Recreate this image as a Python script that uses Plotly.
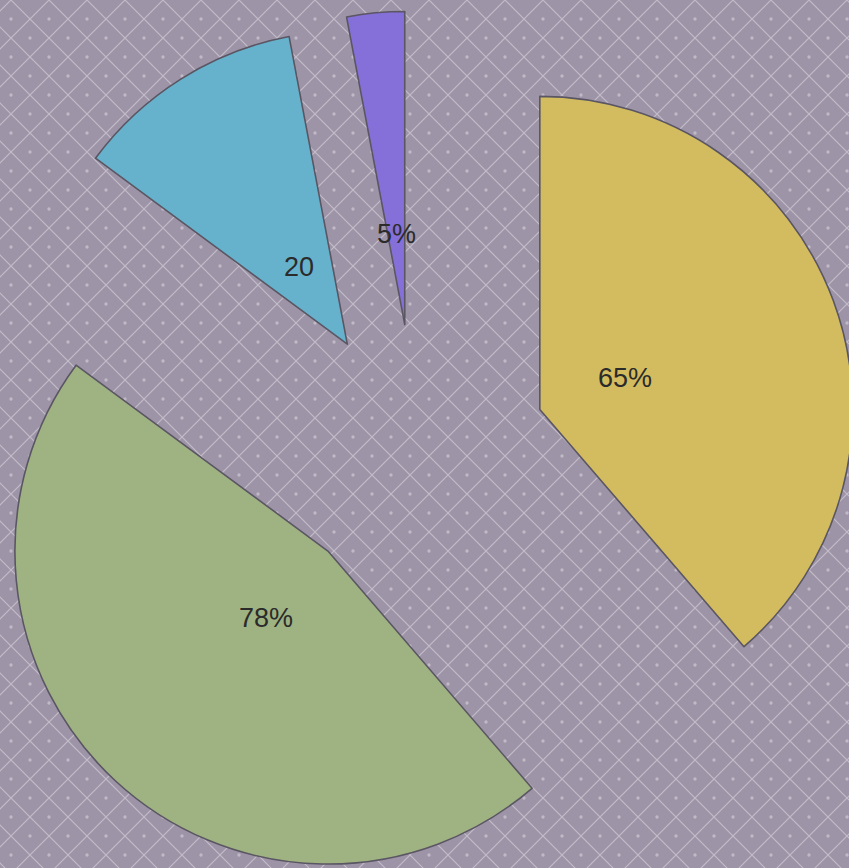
import math
import plotly.graph_objects as go

# ---- data ----
slice_names = ["Yellow", "Green", "Blue", "Purple"]
slice_values = [65, 78, 20, 5]
slice_texts = ["65%", "78%", "20", "5%"]
slice_colors = ["#d2bc5f", "#9fb382", "#66b2cc", "#8470d8"]

# ---- layout constants ----
FIG_W, FIG_H = 888, 899
TOP_GAP = 11            # space above the pie's bounding square
SHIFT_LEFT = 27         # page offset of the figure
PULL = 0.4185
LABEL_R = 0.29          # label distance beyond the pulled apex (fraction of radius)
BG = "#9e94a8"
TILE = 38.0             # diamond-grid spacing (px)

dom_y = [0, 1 - TOP_GAP / FIG_H]

fig = go.Figure()

# patterned background: diagonal diamond grid
fig.add_trace(go.Scatter(
    x=[0, 1, 1, 0, 0], y=[0, 0, 1, 1, 0], fill="toself", mode="none",
    fillcolor=BG,
    fillpattern=dict(shape="x", size=TILE / math.sqrt(2), solidity=0.08,
                     fgcolor="white", fgopacity=0.38, bgcolor=BG),
    hoverinfo="skip", showlegend=False))

# faint dots in the diamond centres (two offset lattices)
dot_pat = dict(shape=".", size=TILE, solidity=0.006, fgcolor="white",
               fgopacity=0.35, bgcolor="rgba(0,0,0,0)")
for ax in ("2", "3"):
    fig.add_trace(go.Scatter(
        x=[0, 1, 1, 0, 0], y=[0, 0, 1, 1, 0], fill="toself", mode="none",
        fillcolor="rgba(0,0,0,0)", fillpattern=dot_pat,
        xaxis="x" + ax, yaxis="y" + ax, hoverinfo="skip", showlegend=False))

fig.add_trace(go.Pie(
    labels=slice_names, values=slice_values, sort=False,
    direction="clockwise", rotation=0,
    pull=[PULL] * len(slice_values),
    marker=dict(colors=slice_colors, line=dict(color="#5b5663", width=1.6)),
    textinfo="none", hoverinfo="label+value",
    domain=dict(x=[0, 1], y=dom_y), showlegend=False))

# labels placed along each slice bisector
plot_h = FIG_H * (dom_y[1] - dom_y[0])
r = min(FIG_W, plot_h) / (2 + 2 * PULL)
cx = FIG_W / 2
cy = FIG_H * (1 - (dom_y[0] + dom_y[1]) / 2)
total = sum(slice_values)
cum = 0
for v, t in zip(slice_values, slice_texts):
    mid = (cum + v / 2) / total * 2 * math.pi
    cum += v
    d = (PULL + LABEL_R) * r
    px = cx + d * math.sin(mid)
    py = cy - d * math.cos(mid)
    fig.add_annotation(x=px / FIG_W, y=1 - py / FIG_H, xref="paper", yref="paper",
                       xanchor="center", yanchor="middle",
                       text=t, showarrow=False,
                       font=dict(family="Liberation Sans, Arial", size=27, color="#2b2b2b"))

hidden = dict(visible=False, range=[0, 1], fixedrange=True)
half = TILE / 2
fig.update_layout(
    width=FIG_W, height=FIG_H,
    margin=dict(l=0, r=0, t=0, b=0),
    paper_bgcolor=BG, plot_bgcolor="rgba(0,0,0,0)",
    xaxis=dict(hidden, domain=[0, 1]),
    yaxis=dict(hidden, domain=[0, 1]),
    xaxis2=dict(hidden, domain=[half / FIG_W, 1], anchor="y2"),
    yaxis2=dict(hidden, domain=[0, 1], anchor="x2"),
    xaxis3=dict(hidden, domain=[0, 1], anchor="y3"),
    yaxis3=dict(hidden, domain=[0, 1 - half / FIG_H], anchor="x3"),
)

post = (
    "document.body.style.margin='0';"
    "document.body.style.overflow='hidden';"
    "document.body.style.background='" + BG + "';"
    "document.getElementById('{plot_id}').style.marginLeft='-" + str(SHIFT_LEFT) + "px';"
)
fig.write_html("out.html", post_script=post, config={"displayModeBar": False})
